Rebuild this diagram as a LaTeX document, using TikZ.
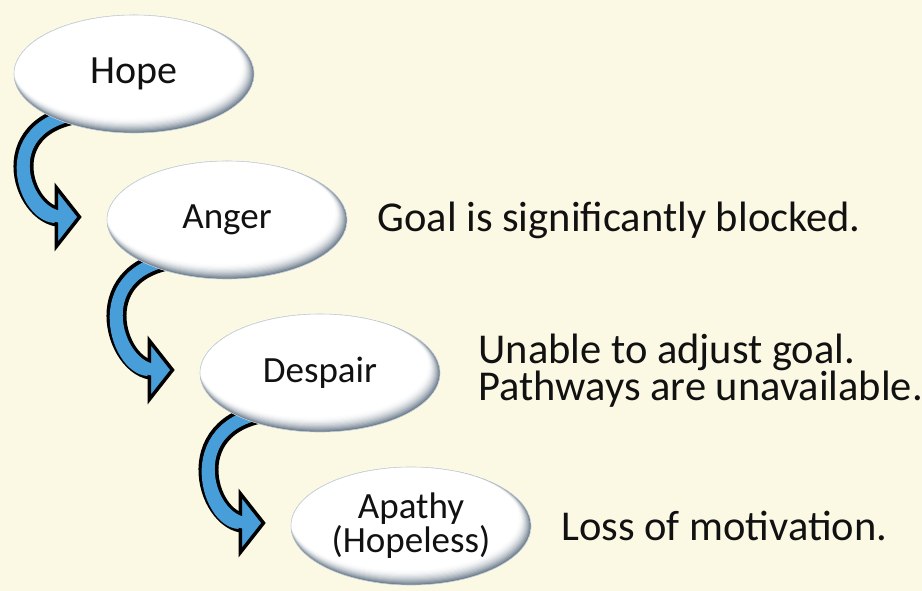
\documentclass[tikz,border=0pt]{standalone}
\usepackage{fontspec}
\setmainfont{Carlito}
\usetikzlibrary{shapes.geometric, arrows.meta, positioning, backgrounds}

\definecolor{paper}{RGB}{251,249,228}
\definecolor{arrowblue}{RGB}{72,158,216}
\definecolor{rimlight}{RGB}{190,202,212}
\definecolor{rimdark}{RGB}{108,124,140}
\definecolor{ink}{RGB}{17,17,17}

\begin{document}
\begin{tikzpicture}[x=1pt, y=-1pt,
    stage/.style={ellipse, minimum width=240pt, minimum height=118pt, inner sep=0pt,
      draw=rimlight, line width=0.6pt, fill=white,
      path picture={
        \foreach \k in {0,...,14}{
          \pgfmathtruncatemacro{\mix}{100*(1-\k/14)^2}
          \fill[rimdark!\mix!white] ([xshift=-0.5pt*\k, yshift=0.6pt*\k]path picture bounding box.center)
            ellipse [x radius=120pt-0.4pt*\k, y radius=59pt-0.5pt*\k];
        }},
      font=\fontsize{37}{33}\selectfont, text=ink, align=center},
    note/.style={font=\fontsize{42.5}{37}\selectfont, text=ink, align=left, inner sep=0pt},
    flow/.style={line width=12pt, draw=arrowblue,
      -{Triangle[length=27pt, width=68pt, line width=3.5pt, color=black, fill=arrowblue]},
      preaction={draw=black, line width=20pt, shorten >=20pt, arrows=-},
      postaction={draw=arrowblue, line width=12pt, shorten >=18pt, arrows=-}}]
	\useasboundingbox (0,0) rectangle (922,591);
	
	% 四个阶段
	\node[stage, font=\fontsize{40}{36}\selectfont] (hope) at (134,74) {Hope};
	\node[stage] (anger) at (227,220) {Anger};
	\node[stage] (despair) at (320,373) {Despair};
	\node[stage] (apathy) at (411,526) {Apathy\\(Hopeless)};
	
	% 说明文字
	\node[note, right=30pt of anger] (goalnote) {Goal is significantly blocked.};
	\node[note, right=38pt of despair, yshift=2pt] (pathnote) {Unable to adjust goal.\\Pathways are unavailable.};
	\node[note, right=30pt of apathy] (lossnote) {Loss of motivation.};
	
	\begin{scope}[on background layer]
		\fill[paper] (0,0) rectangle (922,591);
		% 弯箭头
		\foreach \a/\b in {hope/anger, anger/despair, despair/apathy}
		\draw[flow] ([shift={(-40,38)}]\a.center) .. controls +(-105,5) and +(-60,0) .. ([shift={(-25,-3)}]\b.west);
	\end{scope}
\end{tikzpicture}
\end{document}
